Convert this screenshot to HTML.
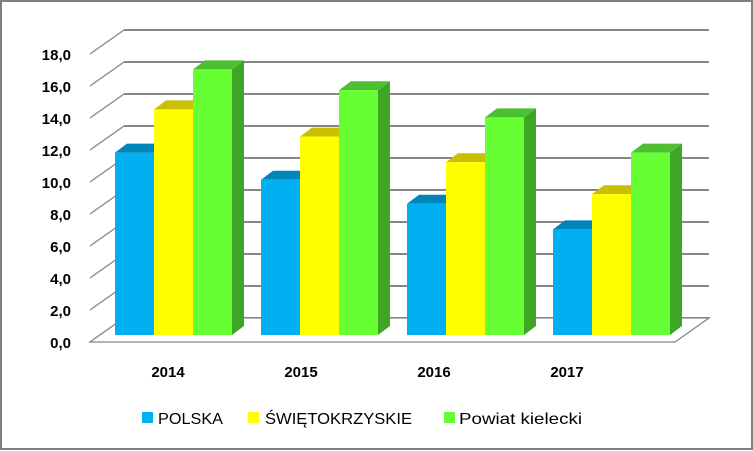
<!DOCTYPE html>
<html><head><meta charset="utf-8"><style>
html,body{margin:0;padding:0;background:#fff}
svg{display:block;font-family:"Liberation Sans",sans-serif}
</style></head><body>
<svg id="chart" width="753" height="451" viewBox="0 0 753 451" xmlns="http://www.w3.org/2000/svg">
<rect x="1" y="1" width="751" height="448" fill="#fff" stroke="#808080" stroke-width="2"/>
<g id="grid"></g>
<g id="bars"></g>
<g id="yticks"></g>
<g id="xticks"></g>
<g font-size="16">
 <g><rect x="142" y="412" width="11" height="11" fill="#00b0f0"/><text x="158" y="424" textLength="65" lengthAdjust="spacingAndGlyphs">POLSKA</text></g>
 <g><rect x="248" y="412" width="11" height="11" fill="#ffff00"/><text x="265" y="424" textLength="147" lengthAdjust="spacingAndGlyphs">ŚWIĘTOKRZYSKIE</text></g>
 <g><rect x="444" y="412" width="11" height="11" fill="#66ff33"/><text x="459" y="424" textLength="123" lengthAdjust="spacingAndGlyphs">Powiat kielecki</text></g>
</g>
</svg>
<script>
const categories = ["2014","2015","2016","2017"];
const polska = [11.4, 9.7, 8.2, 6.6];
const swietokrzyskie = [14.1, 12.4, 10.8, 8.8];
const powiat = [16.6, 15.3, 13.6, 11.4];
const yTicks = [0,2,4,6,8,10,12,14,16,18];
const yTickLabels = ["0,0","2,0","4,0","6,0","8,0","10,0","12,0","14,0","16,0","18,0"];

const NS = "http://www.w3.org/2000/svg";
const PX = 16;
const backY = v => 318 - v*PX;
const frontY = v => 342 - v*PX;
const barY = v => 335 - v*PX;
const groupX = i => 115 + i*146;
const labelX = i => 168 + i*133;
const BW = 39, DX = 12, DY = 9;
function mk(tag, attrs, parent){ const e=document.createElementNS(NS,tag); for(const k in attrs) e.setAttribute(k,attrs[k]); parent.appendChild(e); return e; }

const grid = document.getElementById('grid');
yTicks.forEach(t=>{
  const l = mk('line',{x1:124,y1:backY(t),x2:709,y2:backY(t),stroke:'#868686','stroke-width':2},grid);
  
  
  const d = mk('line',{x1:90,y1:frontY(t),x2:124,y2:backY(t),stroke:'#868686','stroke-width':1.3},grid);
  
  
});
const floor = mk('polygon',{points:`90,${frontY(0)} 675,${frontY(0)} 709,${backY(0)} 124,${backY(0)}`,fill:'#fff',stroke:'#868686','stroke-width':1.3},grid);



const bars = document.getElementById('bars');
const series = [
  {vals:polska, front:'#00b0f0', top:'#0085b8', side:'#0085b8', name:'polska'},
  {vals:swietokrzyskie, front:'#ffff00', top:'#c8c000', side:'#c8c000', name:'swietokrzyskie'},
  {vals:powiat, front:'#66ff33', top:'#4cc030', side:'#3fa524', name:'powiat'}
];
categories.forEach((c,i)=>{
  series.forEach((s,j)=>{
    const x0 = groupX(i)+j*BW, x1 = x0+BW, yt = barY(s.vals[i]), yb = barY(0);
    const g = mk('g',{},bars);
    
    
    mk('polygon',{points:`${x1},${yt} ${x1+DX},${yt-DY} ${x1+DX},${yb-DY} ${x1},${yb}`,fill:s.side},g);
    mk('polygon',{points:`${x0},${yt} ${x1},${yt} ${x1+DX},${yt-DY} ${x0+DX},${yt-DY}`,fill:s.top},g);
    mk('rect',{x:x0,y:yt,width:BW,height:yb-yt,fill:s.front},g);
  });
});

const yt = document.getElementById('yticks');
yTicks.forEach((t,k)=>{
  const e = mk('text',{x:71,y:frontY(t)+6,'text-anchor':'end','font-size':15,'font-weight':'bold'},yt);
  e.textContent = yTickLabels[k];
  
  
});
const xt = document.getElementById('xticks');
categories.forEach((c,i)=>{
  const e = mk('text',{x:labelX(i),y:377,'text-anchor':'middle','font-size':15,'font-weight':'bold'},xt);
  e.textContent = c;
  
  
});
</script>
</body></html>
